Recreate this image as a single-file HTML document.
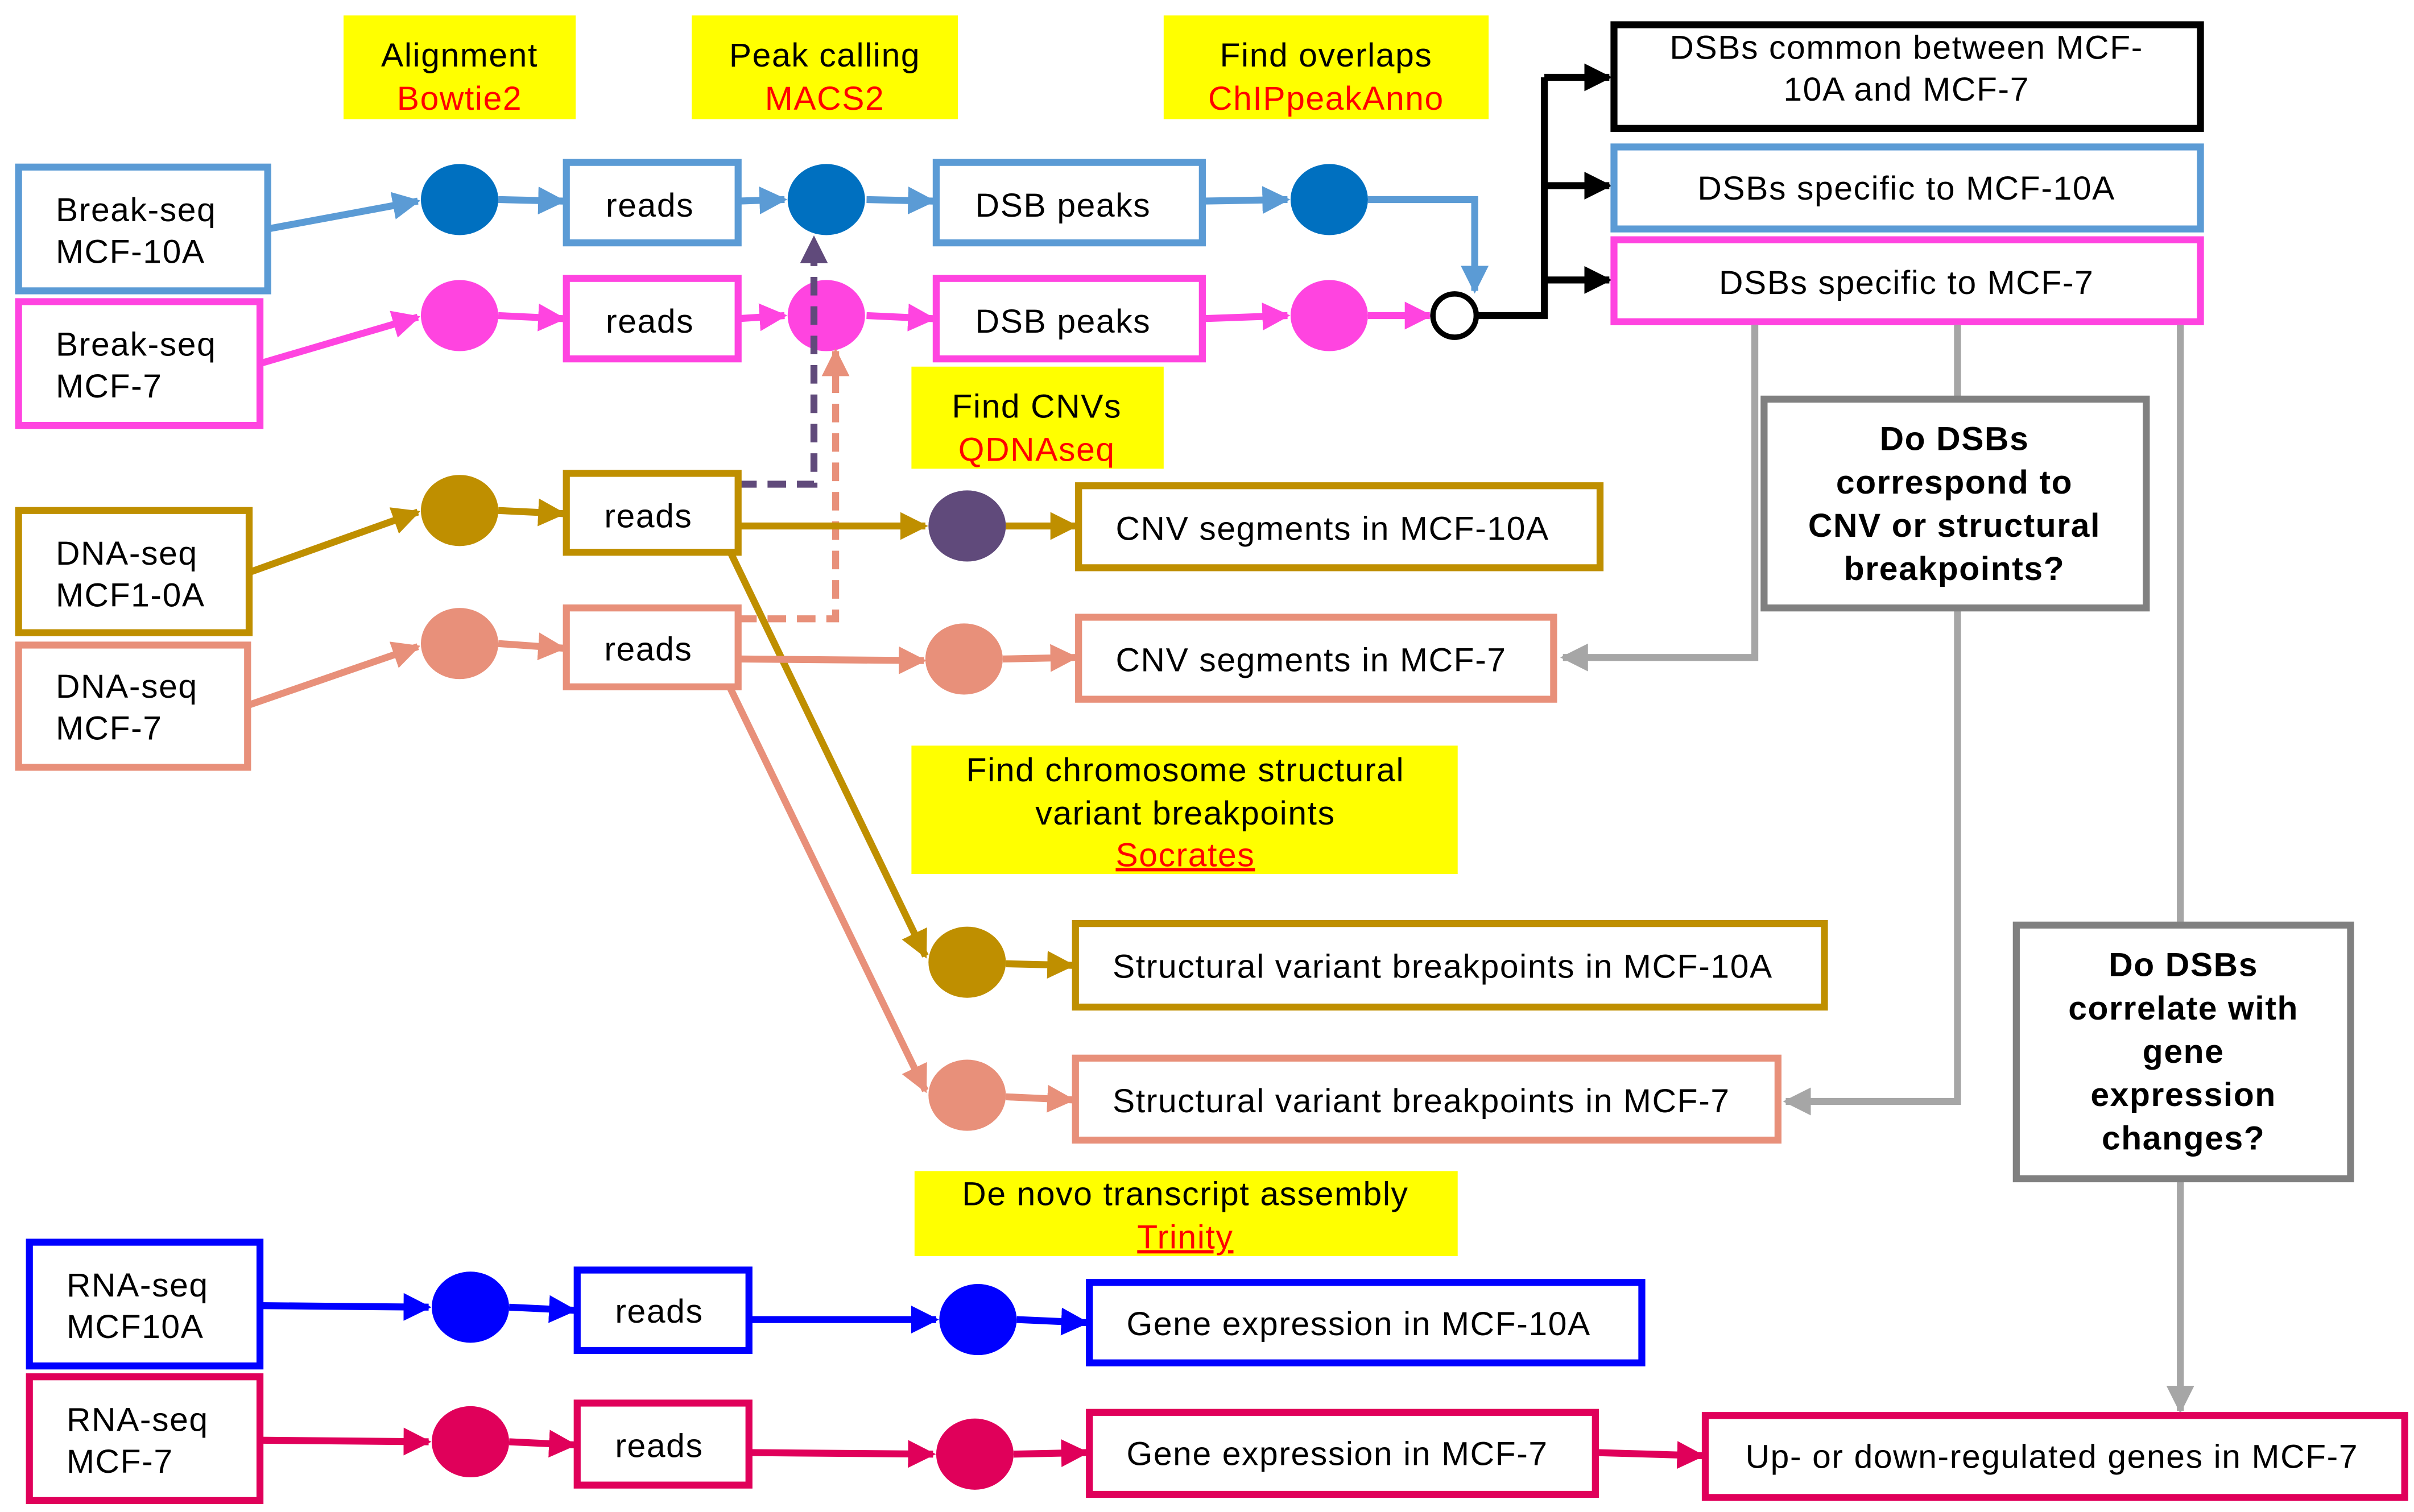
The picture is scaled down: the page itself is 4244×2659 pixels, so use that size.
<!DOCTYPE html>
<html><head><meta charset="utf-8"><style>
html,body{margin:0;padding:0;background:#fff}
svg{display:block}
text{font-family:"Liberation Sans",Arial,sans-serif;font-size:21.6px;letter-spacing:0.6px}
</style></head><body>
<svg width="4244" height="2659" viewBox="0 0 1560 977.4" preserveAspectRatio="none" xmlns="http://www.w3.org/2000/svg">
<defs>
<marker id="a" viewBox="0 0 10 10" refX="9" refY="5" markerWidth="4" markerHeight="4" orient="auto" markerUnits="strokeWidth"><path d="M0,0L10,5L0,10z" fill="context-stroke"/></marker>
</defs>
<style>
.y{fill:#ffff00}
.b{fill:#fff;stroke-width:4.5}
.l{fill:none;stroke-width:4.5}
</style>
<!-- yellow labels -->
<rect class="y" x="222" y="10" width="150" height="67"/>
<text x="297" y="43" text-anchor="middle">Alignment</text><text x="297" y="71" text-anchor="middle" fill="#ff0000">Bowtie2</text>
<rect class="y" x="447" y="10" width="172" height="67"/>
<text x="533" y="43" text-anchor="middle">Peak calling</text><text x="533" y="71" text-anchor="middle" fill="#ff0000">MACS2</text>
<rect class="y" x="752" y="10" width="210" height="67"/>
<text x="857" y="43" text-anchor="middle">Find overlaps</text><text x="857" y="71" text-anchor="middle" fill="#ff0000">ChIPpeakAnno</text>
<rect class="y" x="589" y="237" width="163" height="66"/>
<text x="670" y="270" text-anchor="middle">Find CNVs</text><text x="670" y="298" text-anchor="middle" fill="#ff0000">QDNAseq</text>
<rect class="y" x="589" y="482" width="353" height="83"/>
<text x="766" y="505" text-anchor="middle">Find chromosome structural</text><text x="766" y="533" text-anchor="middle">variant breakpoints</text><text x="766" y="560" text-anchor="middle" fill="#ff0000" text-decoration="underline">Socrates</text>
<rect class="y" x="591" y="757" width="351" height="55"/>
<text x="766" y="779" text-anchor="middle">De novo transcript assembly</text><text x="766" y="807" text-anchor="middle" fill="#ff0000" text-decoration="underline">Trinity</text>

<!-- Row1 Break-seq 10A -->
<g stroke="#5B9BD5">
<rect class="b" x="12" y="108" width="161" height="80"/>
<path class="l" d="M173,148 L270,130" marker-end="url(#a)"/>
<path class="l" d="M322,129 L364,130" marker-end="url(#a)"/>
<rect class="b" x="366" y="105" width="111" height="52"/>
<path class="l" d="M477,130 L507,129" marker-end="url(#a)"/>
<path class="l" d="M560,129 L603,130" marker-end="url(#a)"/>
<rect class="b" x="605" y="105" width="172" height="52"/>
<path class="l" d="M777,130 L832,129" marker-end="url(#a)"/>
<path class="l" d="M884,129 L953,129 L953,188" marker-end="url(#a)"/>
</g>
<text x="36" y="143">Break-seq</text><text x="36" y="170">MCF-10A</text>
<text x="420" y="140" text-anchor="middle">reads</text>
<text x="687" y="140" text-anchor="middle">DSB peaks</text>
<ellipse cx="297" cy="129" rx="25" ry="23" fill="#0070C0"/>
<ellipse cx="534" cy="129" rx="25" ry="23" fill="#0070C0"/>
<ellipse cx="859" cy="129" rx="25" ry="23" fill="#0070C0"/>

<!-- Row2 Break-seq 7 -->
<g stroke="#FF44E0">
<rect class="b" x="12" y="195" width="156" height="80"/>
<path class="l" d="M168,235 L270,205" marker-end="url(#a)"/>
<path class="l" d="M322,204 L364,206" marker-end="url(#a)"/>
<rect class="b" x="366" y="180" width="111" height="52"/>
<path class="l" d="M477,206 L507,204" marker-end="url(#a)"/>
<path class="l" d="M560,204 L603,206" marker-end="url(#a)"/>
<rect class="b" x="605" y="180" width="172" height="52"/>
<path class="l" d="M777,206 L832,204" marker-end="url(#a)"/>
<path class="l" d="M884,204 L924,204" marker-end="url(#a)"/>
</g>
<text x="36" y="230">Break-seq</text><text x="36" y="257">MCF-7</text>
<text x="420" y="215" text-anchor="middle">reads</text>
<text x="687" y="215" text-anchor="middle">DSB peaks</text>
<ellipse cx="297" cy="204" rx="25" ry="23" fill="#FF44E0"/>
<ellipse cx="534" cy="204" rx="25" ry="23" fill="#FF44E0"/>
<ellipse cx="859" cy="204" rx="25" ry="23" fill="#FF44E0"/>

<!-- black merge -->
<circle cx="940" cy="204" r="14" fill="#fff" stroke="#000" stroke-width="3.5"/>
<g stroke="#000">
<path class="l" d="M954,204 L998,204 L998,50"/>
<path class="l" d="M998,50 L1040,50" marker-end="url(#a)"/>
<path class="l" d="M998,120 L1040,120" marker-end="url(#a)"/>
<path class="l" d="M998,181 L1040,181" marker-end="url(#a)"/>
<rect class="b" x="1043" y="16" width="379" height="67"/>
</g>
<rect class="b" stroke="#5B9BD5" x="1043" y="95" width="379" height="53"/>
<rect class="b" stroke="#FF44E0" x="1043" y="155" width="379" height="53"/>
<text x="1232" y="38" text-anchor="middle">DSBs common between MCF-</text>
<text x="1232" y="65" text-anchor="middle">10A and MCF-7</text>
<text x="1232" y="129" text-anchor="middle">DSBs specific to MCF-10A</text>
<text x="1232" y="190" text-anchor="middle">DSBs specific to MCF-7</text>

<!-- gray -->
<g stroke="#A6A6A6">
<path class="l" d="M1134,210 L1134,425 L1010,425" marker-end="url(#a)"/>
<path class="l" d="M1265,210 L1265,258"/>
<path class="l" d="M1265,393 L1265,712 L1154,712" marker-end="url(#a)"/>
<path class="l" d="M1409,210 L1409,598"/>
<path class="l" d="M1409,762 L1409,912" marker-end="url(#a)"/>
</g>
<rect class="b" stroke="#808080" x="1140" y="258" width="247" height="135"/>
<g font-weight="bold" text-anchor="middle">
<text x="1263" y="291">Do DSBs</text><text x="1263" y="319">correspond to</text><text x="1263" y="347">CNV or structural</text><text x="1263" y="375">breakpoints?</text>
</g>
<rect class="b" stroke="#808080" x="1303" y="598" width="216" height="164"/>
<g font-weight="bold" text-anchor="middle">
<text x="1411" y="631">Do DSBs</text><text x="1411" y="659">correlate with</text><text x="1411" y="687">gene</text><text x="1411" y="715">expression</text><text x="1411" y="743">changes?</text>
</g>

<!-- dashed -->
<path class="l" stroke="#604A7B" stroke-dasharray="12,7" d="M477,313 L526,313 L526,154" marker-end="url(#a)"/>
<path class="l" stroke="#E8907A" stroke-dasharray="12,7" d="M477,400 L540,400 L540,227" marker-end="url(#a)"/>

<!-- DNA 10A -->
<g stroke="#BF8F00">
<rect class="b" x="12" y="330" width="149" height="79"/>
<path class="l" d="M161,370 L270,331" marker-end="url(#a)"/>
<path class="l" d="M322,330 L364,332" marker-end="url(#a)"/>
<rect class="b" x="366" y="306" width="111" height="51"/>
<path class="l" d="M477,340 L598,340" marker-end="url(#a)"/>
<path class="l" d="M650,340 L695,340" marker-end="url(#a)"/>
<rect class="b" x="697" y="314" width="337" height="53"/>
<path class="l" d="M472,357 L598,618" marker-end="url(#a)"/>
<path class="l" d="M650,623 L693,624" marker-end="url(#a)"/>
<rect class="b" x="695" y="597" width="484" height="54"/>
</g>
<text x="36" y="365">DNA-seq</text><text x="36" y="392">MCF1-0A</text>
<text x="419" y="341" text-anchor="middle">reads</text>
<text x="721" y="349">CNV segments in MCF-10A</text>
<text x="719" y="632">Structural variant breakpoints in MCF-10A</text>
<ellipse cx="297" cy="330" rx="25" ry="23" fill="#BF8F00"/>
<ellipse cx="625" cy="340" rx="25" ry="23" fill="#604A7B"/>
<ellipse cx="625" cy="622" rx="25" ry="23" fill="#BF8F00"/>

<!-- DNA 7 -->
<g stroke="#E8907A">
<rect class="b" x="12" y="417" width="148" height="79"/>
<path class="l" d="M160,456 L270,418" marker-end="url(#a)"/>
<path class="l" d="M322,416 L364,419" marker-end="url(#a)"/>
<rect class="b" x="366" y="393" width="111" height="51"/>
<path class="l" d="M477,426 L597,427" marker-end="url(#a)"/>
<path class="l" d="M648,426 L695,425" marker-end="url(#a)"/>
<rect class="b" x="697" y="399" width="307" height="53"/>
<path class="l" d="M472,445 L598,705" marker-end="url(#a)"/>
<path class="l" d="M650,709 L693,711" marker-end="url(#a)"/>
<rect class="b" x="695" y="684" width="454" height="53"/>
</g>
<text x="36" y="451">DNA-seq</text><text x="36" y="478">MCF-7</text>
<text x="419" y="427" text-anchor="middle">reads</text>
<text x="721" y="434">CNV segments in MCF-7</text>
<text x="719" y="719">Structural variant breakpoints in MCF-7</text>
<ellipse cx="297" cy="416" rx="25" ry="23" fill="#E8907A"/>
<ellipse cx="623" cy="426" rx="25" ry="23" fill="#E8907A"/>
<ellipse cx="625" cy="708" rx="25" ry="23" fill="#E8907A"/>

<!-- RNA 10A -->
<g stroke="#0000FF">
<rect class="b" x="19" y="803" width="149" height="80"/>
<path class="l" d="M168,844 L277,845" marker-end="url(#a)"/>
<path class="l" d="M329,845 L371,847" marker-end="url(#a)"/>
<rect class="b" x="373" y="821" width="111" height="52"/>
<path class="l" d="M484,853 L605,853" marker-end="url(#a)"/>
<path class="l" d="M657,853 L702,855" marker-end="url(#a)"/>
<rect class="b" x="704" y="829" width="357" height="52"/>
</g>
<text x="43" y="838">RNA-seq</text><text x="43" y="865">MCF10A</text>
<text x="426" y="855" text-anchor="middle">reads</text>
<text x="728" y="863">Gene expression in MCF-10A</text>
<ellipse cx="304" cy="845" rx="25" ry="23" fill="#0000FF"/>
<ellipse cx="632" cy="853" rx="25" ry="23" fill="#0000FF"/>

<!-- RNA 7 -->
<g stroke="#E0005A">
<rect class="b" x="19" y="890" width="149" height="80"/>
<path class="l" d="M168,931 L277,932" marker-end="url(#a)"/>
<path class="l" d="M329,932 L371,934" marker-end="url(#a)"/>
<rect class="b" x="373" y="907" width="111" height="53"/>
<path class="l" d="M484,939 L603,940" marker-end="url(#a)"/>
<path class="l" d="M655,940 L702,939" marker-end="url(#a)"/>
<rect class="b" x="704" y="913" width="327" height="53"/>
<path class="l" d="M1031,939 L1100,941" marker-end="url(#a)"/>
<rect class="b" x="1102" y="915" width="452" height="53"/>
</g>
<text x="43" y="925">RNA-seq</text><text x="43" y="952">MCF-7</text>
<text x="426" y="942" text-anchor="middle">reads</text>
<text x="728" y="947">Gene expression in MCF-7</text>
<text x="1326" y="949" text-anchor="middle">Up- or down-regulated genes in MCF-7</text>
<ellipse cx="304" cy="932" rx="25" ry="23" fill="#E0005A"/>
<ellipse cx="630" cy="940" rx="25" ry="23" fill="#E0005A"/>
</svg>
</body></html>
